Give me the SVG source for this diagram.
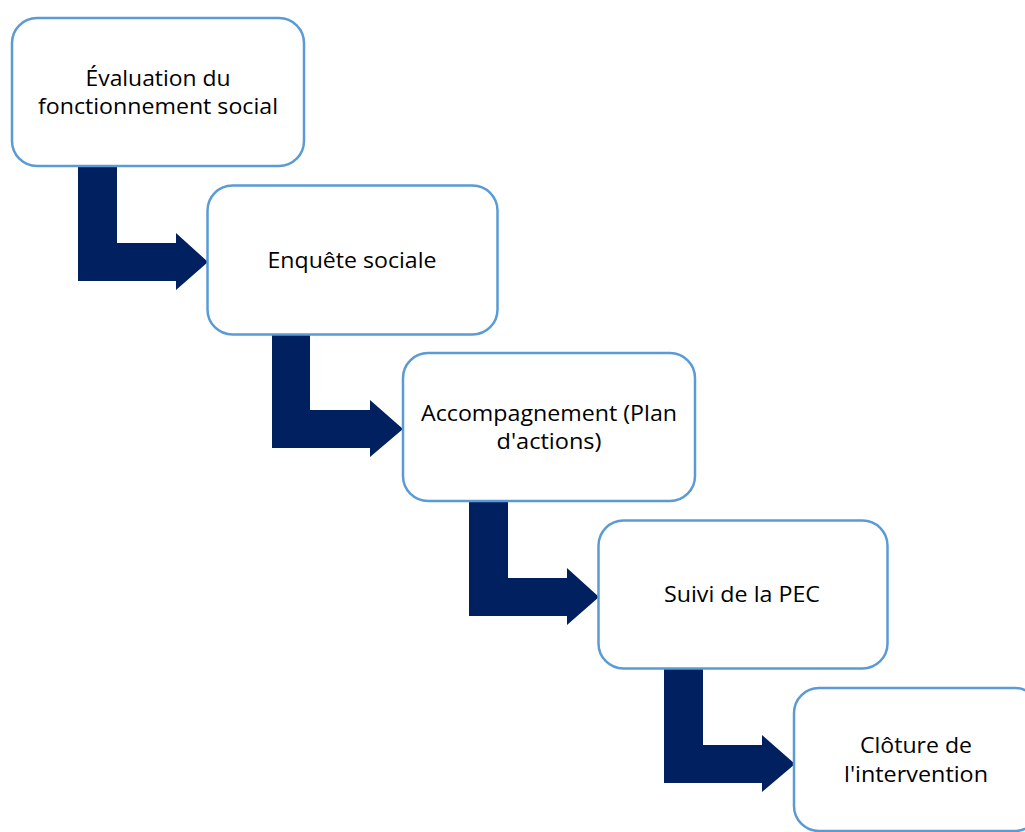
<svg xmlns="http://www.w3.org/2000/svg" width="1025" height="832" viewBox="0 0 1025 832">
<style>
.box{fill:#ffffff;stroke:#5B9BD5;stroke-width:2.5}
.arr{fill:#002060;stroke:none}
.t{font-family:"Open Sans","Liberation Sans",sans-serif;font-size:21px;fill:#000000;text-anchor:middle}
</style>
<rect width="1025" height="832" fill="#ffffff"/>
<g id="connectors">
<path class="arr" d="M78,166 H117 V243 H176 V233 L208,262 L176,290 V281 H78 Z"/>
<path class="arr" d="M272,333 H310 V410 H370 V400 L403,429 L370,457 V448 H272 Z"/>
<path class="arr" d="M469,501 H508 V578 H567 V568 L599,597 L567,625 V616 H469 Z"/>
<path class="arr" d="M664,668 H703 V745 H762 V735 L795,764 L762,792 V783 H664 Z"/>
</g>
<g id="node1">
<rect class="box" x="12" y="18" width="292" height="148" rx="25"/>
<text class="t" x="158" y="86" textLength="145" lengthAdjust="spacingAndGlyphs">Évaluation du</text>
<text class="t" x="158" y="114" textLength="240" lengthAdjust="spacingAndGlyphs">fonctionnement social</text>
</g>
<g id="node2">
<rect class="box" x="207.5" y="185.5" width="290" height="149" rx="25"/>
<text class="t" x="352" y="268" textLength="169" lengthAdjust="spacingAndGlyphs">Enquête sociale</text>
</g>
<g id="node3">
<rect class="box" x="403" y="353" width="292" height="148" rx="25"/>
<text class="t" x="549" y="421" textLength="256" lengthAdjust="spacingAndGlyphs">Accompagnement (Plan</text>
<text class="t" x="549" y="449" textLength="105" lengthAdjust="spacingAndGlyphs">d'actions)</text>
</g>
<g id="node4">
<rect class="box" x="598.5" y="520.5" width="289" height="148" rx="25"/>
<text class="t" x="742" y="602" textLength="156" lengthAdjust="spacingAndGlyphs">Suivi de la PEC</text>
</g>
<g id="node5">
<rect class="box" x="794" y="688" width="246" height="143" rx="25"/>
<text class="t" x="916" y="753" textLength="112" lengthAdjust="spacingAndGlyphs">Clôture de</text>
<text class="t" x="916" y="782" textLength="144" lengthAdjust="spacingAndGlyphs">l'intervention</text>
</g>
</svg>
